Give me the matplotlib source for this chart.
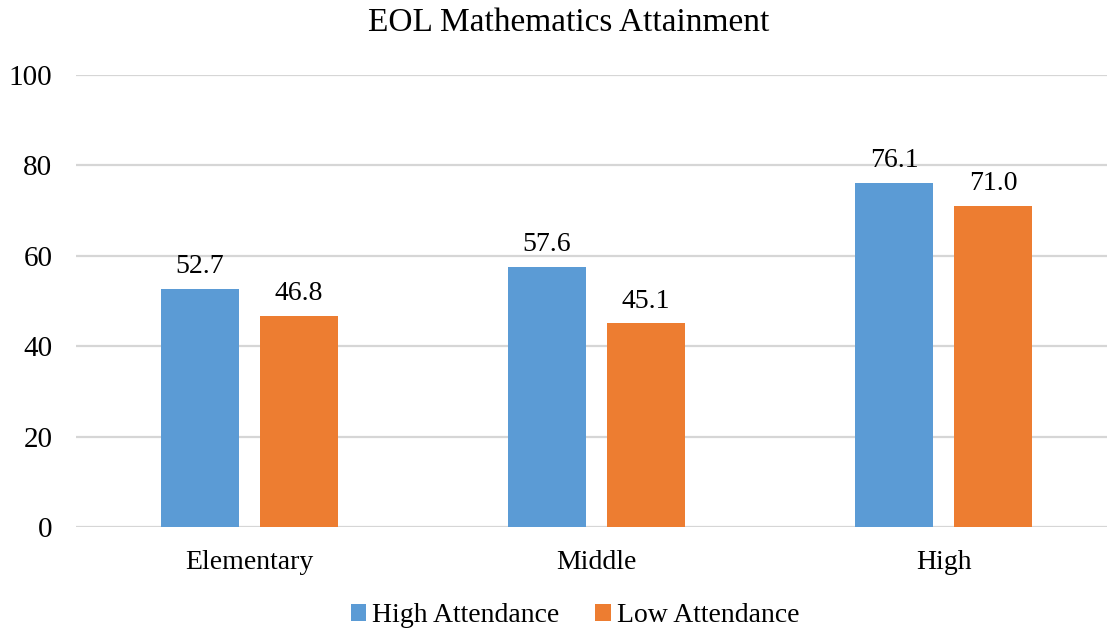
import matplotlib
matplotlib.use("Agg")
import matplotlib.pyplot as plt
import numpy as np

categories = ["Elementary", "Middle", "High"]
high_attendance = [52.7, 57.6, 76.1]
low_attendance = [46.8, 45.1, 71.0]
series_names = ["High Attendance", "Low Attendance"]
yticks = [0, 20, 40, 60, 80, 100]

plt.rcParams["font.family"] = ["Liberation Serif", "DejaVu Serif"]

fig = plt.figure(figsize=(11.07, 6.31), dpi=100)
ax = fig.add_axes([76 / 1107, 1 - 527.3 / 631, 1 - 76 / 1107, (527.3 - 75) / 631])

x = np.arange(len(categories))
w = 0.225
off = 0.1427
blue = "#5b9bd5"
orange = "#ed7d31"

b1 = ax.bar(x - off, high_attendance, w, color=blue, label=series_names[0], zorder=3)
b2 = ax.bar(x + off, low_attendance, w, color=orange, label=series_names[1], zorder=3)

for bars, vals in ((b1, high_attendance), (b2, low_attendance)):
    for rect, v in zip(bars, vals):
        ax.annotate(f"{v:.1f}", (rect.get_x() + rect.get_width() / 2, v),
                    xytext=(0, 7), textcoords="offset points",
                    ha="center", va="bottom", fontsize=20, color="#000000")

ax.set_xlim(-0.5, 2.471)
ax.set_ylim(0, 100)
ax.set_yticks(yticks)
ax.set_xticks(x)
ax.set_xticklabels(categories)
ax.tick_params(axis="y", length=0, pad=17, labelsize=21)
ax.tick_params(axis="x", length=0, pad=16, labelsize=20)
ax.grid(axis="y", color="#d6d6d6", linewidth=1.6, zorder=0)
for s in ax.spines.values():
    s.set_visible(False)

fig.text(569 / 1107, 1 - 23 / 631, "EOL Mathematics Attainment",
         ha="center", va="center", fontsize=24)

fig.legend(handles=[b1, b2], loc="center", bbox_to_anchor=(575 / 1107, 1 - 616 / 631),
           ncol=2, frameon=False, fontsize=20, handlelength=0.55, handleheight=0.55,
           handletextpad=0.22, columnspacing=1.3)

fig.savefig("out.png", dpi=100)
